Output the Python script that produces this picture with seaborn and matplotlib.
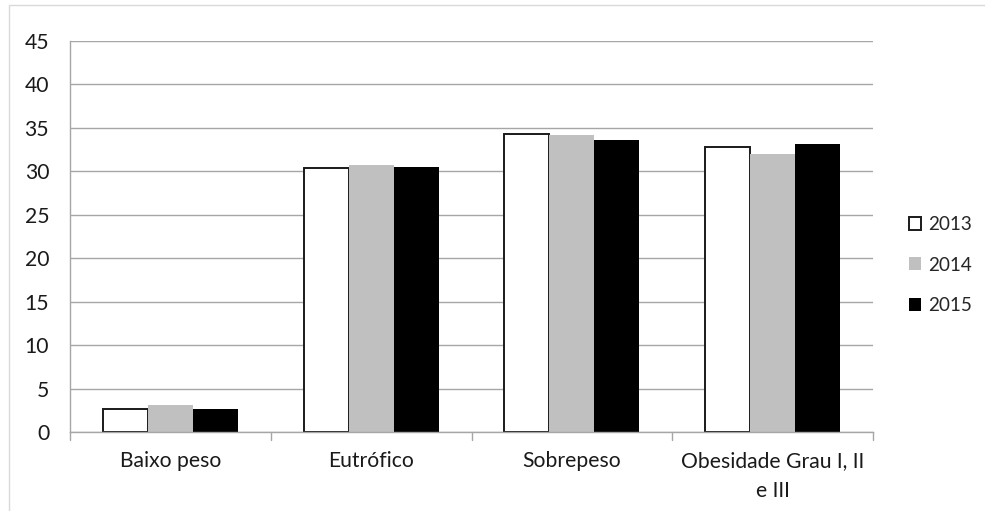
import matplotlib
matplotlib.use("Agg")
import matplotlib.pyplot as plt
from matplotlib.patches import Rectangle
import seaborn as sns
import pandas as pd

categories = ["Baixo peso", "Eutrófico", "Sobrepeso", "Obesidade Grau I, II\ne III"]
years = ["2013", "2014", "2015"]
values_2013 = [2.7, 30.4, 34.3, 32.8]
values_2014 = [3.15, 30.75, 34.15, 32.0]
values_2015 = [2.6, 30.55, 33.6, 33.1]
y_ticks = [0, 5, 10, 15, 20, 25, 30, 35, 40, 45]

df = pd.DataFrame({
    "categoria": categories * 3,
    "ano": [y for y in years for _ in categories],
    "valor": values_2013 + values_2014 + values_2015,
})

sns.set_style("white")
plt.rcParams["font.family"] = ["Lato", "DejaVu Sans"]
FS = 15.2
FS_LEG = 13.6

fig = plt.figure(figsize=(9.85, 5.11), dpi=100)
W, H = 985, 511
ax = fig.add_axes([70 / W, 1 - 432 / H, (873 - 70) / W, (432 - 41) / H])

face = {"2013": "white", "2014": "#c0c0c0", "2015": "black"}
sns.barplot(data=df, x="categoria", y="valor", hue="ano", hue_order=years,
            order=categories, palette=face, width=0.672, ax=ax,
            legend=False, saturation=1)

# outline the white 2013 bars, no edges on the rest
for cont, yr in zip(ax.containers, years):
    for bar in cont:
        if yr == "2013":
            bar.set_edgecolor("#1a1a1a")
            bar.set_linewidth(1.4)
        else:
            bar.set_edgecolor("none")
            bar.set_linewidth(0)

ax.set_ylim(0, 45)
ax.set_xlim(-0.5, len(categories) - 0.5)
ax.set_yticks(y_ticks)
ax.set_yticklabels([str(t) for t in y_ticks], fontsize=FS, color="#1a1a1a")
ax.yaxis.grid(True, color="#a6a6a6", linewidth=1.0)
ax.set_axisbelow(True)
ax.set_xlabel("")
ax.set_ylabel("")

# category labels centered, tick marks at group boundaries
ax.set_xticks(range(len(categories)))
ax.set_xticklabels(categories, fontsize=FS, color="#1a1a1a", linespacing=1.6)
ax.tick_params(axis="x", length=0, pad=14)
for xb in [-0.5, 0.5, 1.5, 2.5, 3.5]:
    ax.plot([xb, xb], [0, -0.9], color="#a6a6a6", lw=1.0, clip_on=False)
ax.tick_params(axis="y", length=8, color="#a6a6a6", width=1.0, pad=7)

for side in ["top", "right"]:
    ax.spines[side].set_visible(False)
for side in ["left", "bottom"]:
    ax.spines[side].set_color("#a6a6a6")
    ax.spines[side].set_linewidth(1.0)

handles = [
    Rectangle((0, 0), 1, 1, facecolor="white", edgecolor="#1a1a1a", linewidth=1.4),
    Rectangle((0, 0), 1, 1, facecolor="#c0c0c0", edgecolor="none"),
    Rectangle((0, 0), 1, 1, facecolor="black", edgecolor="none"),
]
fig.legend(handles, years, loc="center left", bbox_to_anchor=(901 / W, 1 - 265 / H),
           frameon=False, fontsize=FS_LEG, handlelength=0.68, handleheight=0.68,
           handletextpad=0.37, labelspacing=1.25, borderaxespad=0)

# light frame around the chart area
fig.add_artist(Rectangle((9 / W, -0.1), 1.2, 1 - 5 / H + 0.1, transform=fig.transFigure,
                         facecolor="none", edgecolor="#d9d9d9", linewidth=1.0))

fig.savefig("out.png", dpi=100)
